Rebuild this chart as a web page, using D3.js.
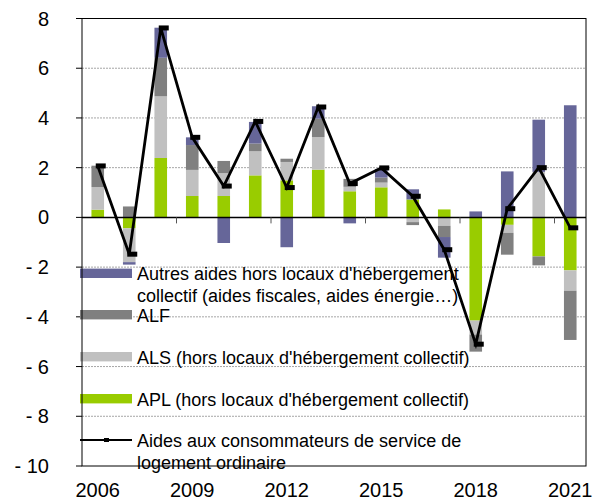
<!DOCTYPE html>
<html><head><meta charset="utf-8">
<script src="https://cdn.jsdelivr.net/npm/d3@7"></script>
<style>body{margin:0;background:#fff}svg{display:block;font-family:"Liberation Sans",Arial,sans-serif}</style>
</head><body><svg id="c" width="594" height="501"></svg>
<script>
const years = [2006,2007,2008,2009,2010,2011,2012,2013,2014,2015,2016,2017,2018,2019,2020,2021];
const apl    = [0.31,-0.44,2.39,0.86,0.86,1.69,1.49,1.92,1.05,1.21,0.72,0.32,-4.15,-0.30,-1.57,-2.13];
const als    = [0.91,-1.36,2.48,1.05,0.92,0.97,0.74,1.31,0.18,0.19,-0.19,-0.34,-0.56,-0.32,1.83,-0.82];
const alf    = [0.86,0.44,1.55,1.00,0.49,0.31,0.13,0.74,0.32,0.20,-0.12,-0.45,-0.69,-0.88,-0.36,-1.98];
const autres = [0.00,-0.10,1.21,0.31,-1.03,0.87,-1.20,0.50,-0.24,0.35,0.41,-0.83,0.24,1.85,2.10,4.51];
const total  = [2.07,-1.48,7.62,3.22,1.26,3.86,1.20,4.44,1.36,1.99,0.85,-1.30,-5.10,0.35,2.00,-0.42];
const yTicks = [-10,-8,-6,-4,-2,0,2,4,6,8];
const xLabels = [2006,2009,2012,2015,2018,2021];
const seriesKeys = ["APL","ALS","ALF","Autres"];
const seriesColors = {"APL":"#99CC00","ALS":"#C0C0C0","ALF":"#808080","Autres":"#666699"};
const legendItems = [
  {key:"Autres", lines:["Autres aides hors locaux d'hébergement","collectif (aides fiscales, aides énergie…)"]},
  {key:"ALF", lines:["ALF"]},
  {key:"ALS", lines:["ALS (hors locaux d'hébergement collectif)"]},
  {key:"APL", lines:["APL (hors locaux d'hébergement collectif)"]},
  {key:"line", lines:["Aides aux consommateurs de service de","logement ordinaire"]}
];

const svg = d3.select("#c");
const L=82, R=586, T=18.5, B=466;
const x = d3.scaleBand().domain(years).range([L,R]).paddingInner(0.6).paddingOuter(0.3);
const y = d3.scaleLinear().domain([-10,8]).range([B,T]);

const rows = years.map((yr,i)=>({year:yr, APL:apl[i], ALS:als[i], ALF:alf[i], Autres:autres[i]}));
const stacked = d3.stack().keys(seriesKeys).offset(d3.stackOffsetDiverging)(rows);

// gridlines
svg.append("g").selectAll("line").data(yTicks.filter(v=>v!==0 && v!==8 && v!==-10)).join("line")
  .attr("x1",L).attr("x2",R).attr("y1",d=>y(d)).attr("y2",d=>y(d))
  .attr("stroke","#a6a6a6").attr("stroke-width",1).attr("stroke-dasharray","2,1");

// y axis labels
svg.append("g").selectAll("text").data(yTicks).join("text")
  .attr("x",49).attr("y",d=>y(d)+7).attr("text-anchor","end")
  .attr("font-size",20).attr("fill","#000")
  .text(d=> d<0 ? "- "+Math.abs(d) : String(d));
svg.append("g").selectAll("line").data(yTicks).join("line")
  .attr("x1",L-6).attr("x2",L).attr("y1",d=>y(d)).attr("y2",d=>y(d))
  .attr("stroke","#000").attr("stroke-width",1);

// legend (drawn beneath marks)
const lg = svg.append("g");
const legY = [273.3, 314.7, 356.7, 398.7, 440];
legendItems.forEach((it,i)=>{
  const cy = legY[i];
  if(it.key==="line"){
    lg.append("line").attr("x1",80).attr("x2",132).attr("y1",cy).attr("y2",cy).attr("stroke","#000").attr("stroke-width",2);
    lg.append("rect").attr("x",104).attr("y",cy-2).attr("width",5).attr("height",4).attr("fill","#000");
  } else {
    lg.append("rect").attr("x",80).attr("y",cy-4.7).attr("width",52).attr("height",9.4).attr("fill",seriesColors[it.key]);
  }
  it.lines.forEach((t,j)=>{
    lg.append("text").attr("x",137).attr("y",cy+7+j*22).attr("font-size",18).attr("fill","#000").text(t);
  });
});

// bars
svg.append("g").selectAll("g").data(stacked).join("g")
  .attr("fill",d=>seriesColors[d.key])
  .selectAll("rect").data(d=>d).join("rect")
  .attr("x",d=>x(d.data.year)).attr("width",x.bandwidth())
  .attr("y",d=>y(Math.max(d[0],d[1]))).attr("height",d=>Math.abs(y(d[0])-y(d[1])));

// frame and zero line
svg.append("rect").attr("x",L).attr("y",T).attr("width",R-L).attr("height",B-T)
  .attr("fill","none").attr("stroke","#000").attr("stroke-width",1);
svg.append("line").attr("x1",L).attr("x2",R).attr("y1",y(0)).attr("y2",y(0)).attr("stroke","#000").attr("stroke-width",1.5);

// x tick marks every 3 categories
const step = x.step(), gap = step - x.bandwidth();
svg.append("g").selectAll("line").data(years.filter((d,i)=>i>0 && i%3===0)).join("line")
  .attr("x1",d=>x(d)-gap/2).attr("x2",d=>x(d)-gap/2).attr("y1",y(0)).attr("y2",y(0)+6)
  .attr("stroke","#555").attr("stroke-width",1);

// x labels
svg.append("g").selectAll("text").data(xLabels).join("text")
  .attr("x",d=>x(d)+x.bandwidth()/2).attr("y",497).attr("text-anchor","middle")
  .attr("font-size",20).attr("fill","#000").text(d=>d);

// total line
const pts = years.map((yr,i)=>[x(yr)+x.bandwidth()/2, y(total[i])]);
svg.append("path").attr("d",d3.line()(pts)).attr("fill","none").attr("stroke","#000").attr("stroke-width",2.8).attr("stroke-linejoin","miter");
svg.append("g").selectAll("rect").data(pts).join("rect")
  .attr("x",d=>d[0]-2).attr("y",d=>d[1]-2.5).attr("width",10).attr("height",5).attr("fill","#000");
</script></body></html>
